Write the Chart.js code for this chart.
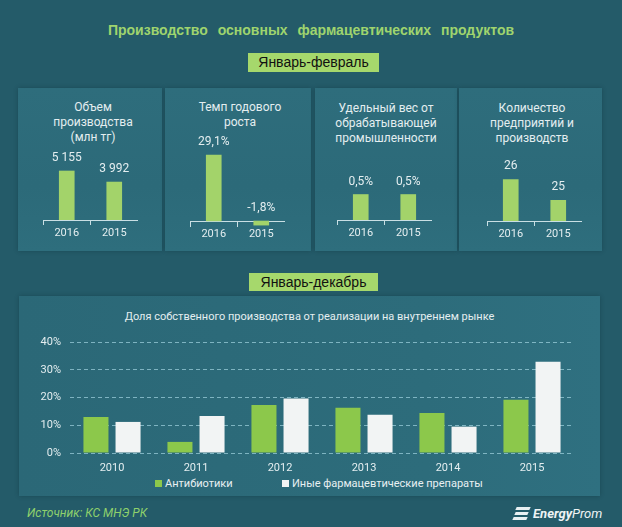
<!DOCTYPE html>
<html><head><meta charset="utf-8">
<script src="https://cdn.jsdelivr.net/npm/chart.js@4.4.1/dist/chart.umd.min.js"></script>
<style>
html,body{margin:0;padding:0;}
body{width:622px;height:527px;background:#245b69;position:relative;overflow:hidden;font-family:Roboto,"Noto Sans",sans-serif;}
.abs{position:absolute;}
.panel{position:absolute;background:linear-gradient(180deg,#2e6d7c 0%,#2c6a79 60%,#2e6e7d 100%);box-shadow:0 0 4px rgba(10,40,50,0.35);}
.title{left:0;width:622px;top:22px;text-align:center;font:bold 14px "Liberation Sans",Arial,sans-serif;color:#9fd46e;word-spacing:6px;}
.box{background:#a6d86c;color:#111;text-align:center;font:14px "Liberation Sans Narrow","Liberation Sans",sans-serif;}
.ptitle{text-align:center;color:#e4eef0;font-size:12px;line-height:15px;}
canvas{position:absolute;}
.leg{font-size:11px;color:#e8f0f2;line-height:14px;}
.sq{display:inline-block;width:7px;height:7px;margin-right:3px;vertical-align:0px;}
</style></head>
<body>
<div class="abs title">Производство основных фармацевтических продуктов</div>
<div class="abs box" style="left:248px;top:53px;width:131px;height:19px;line-height:19px;">Январь-февраль</div>

<div class="panel" style="left:18px;top:88px;width:144px;height:163px;"></div>
<div class="panel" style="left:165px;top:88px;width:146px;height:163px;"></div>
<div class="panel" style="left:315px;top:88px;width:142px;height:163px;"></div>
<div class="panel" style="left:459px;top:88px;width:143px;height:163px;"></div>

<div class="abs ptitle" style="left:33px;width:120px;top:100px;">Объем<br>производства<br>(млн тг)</div>
<div class="abs ptitle" style="left:180px;width:120px;top:100px;">Темп годового<br>роста</div>
<div class="abs ptitle" style="left:326px;width:120px;top:101px;">Удельный вес от<br>обрабатывающей<br>промышленности</div>
<div class="abs ptitle" style="left:472px;width:120px;top:101px;">Количество<br>предприятий и<br>производств</div>

<canvas id="c1" width="95" height="121" style="left:43px;top:120px;"></canvas>
<canvas id="c2" width="95" height="121" style="left:190px;top:120px;"></canvas>
<canvas id="c3" width="95" height="121" style="left:337px;top:120px;"></canvas>
<canvas id="c4" width="95" height="122" style="left:487px;top:120px;"></canvas>

<div class="abs box" style="left:249px;top:273px;width:129px;height:18px;line-height:18px;">Январь-декабрь</div>
<div class="panel" style="left:19px;top:296px;width:581px;height:200px;background:linear-gradient(90deg,#2b6877 0%,#2d6c7b 70%,#2f7080 100%);"></div>
<div class="abs" style="left:19px;width:581px;top:310px;text-align:center;color:#e4eef0;font-size:11px;">Доля собственного производства от реализации на внутреннем рынке</div>
<canvas id="cm" width="580" height="150" style="left:20px;top:325px;"></canvas>
<div class="abs leg" id="legend" style="left:0;width:622px;top:477px;"></div>

<div class="abs" style="left:27px;top:506px;font-style:italic;font-size:12px;color:#8fd16c;">Источник: КС МНЭ РК</div>
<div class="abs" style="left:513px;top:506px;width:90px;height:16px;">
  <div class="abs" style="left:3px;top:1px;width:14px;height:3px;background:#e8f0f2;transform:skewX(-25deg);"></div>
  <div class="abs" style="left:2px;top:6px;width:13px;height:3px;background:#e8f0f2;transform:skewX(-25deg);"></div>
  <div class="abs" style="left:0px;top:11px;width:14px;height:3px;background:#e8f0f2;transform:skewX(-25deg);"></div>
  <div class="abs" style="left:20px;top:0px;font-style:italic;font-size:13px;color:#eef3f4;white-space:nowrap;"><b>Energy</b>Prom</div>
</div>

<script>
// ---- data ----
const miniCategories = ['2016', '2015'];
const volumeValues = [5155, 3992];        // млн тг
const growthValues = [29.1, -1.8];        // %
const shareValues = [0.5, 0.5];           // %
const enterpriseValues = [26, 25];        // ед.

const years = ['2010', '2011', '2012', '2013', '2014', '2015'];
const antibiotics = [13.0, 4.0, 17.3, 16.3, 14.4, 19.2];
const otherPharma = [11.2, 13.3, 19.6, 13.8, 9.5, 32.9];
const seriesNames = ['Антибиотики', 'Иные фармацевтические препараты'];
const yTicks = [0, 10, 20, 30, 40];

// ---- style ----
const FONT = 'Roboto';
const MINI_GREEN = '#a3d36a';
const MAIN_GREEN = '#8cc84b';
const MAIN_WHITE = '#f2f4f4';
const AXIS_COLOR = '#c9dfe4';
const TEXT_COLOR = '#e4eef0';

const valueLabels = {
  id: 'valueLabels',
  afterDatasetsDraw(chart, args, opts) {
    if (!opts.format) return;
    const ctx = chart.ctx;
    const meta = chart.getDatasetMeta(0);
    const data = chart.data.datasets[0].data;
    ctx.save();
    ctx.font = '12px ' + FONT;
    ctx.fillStyle = TEXT_COLOR;
    ctx.textAlign = 'center';
    ctx.textBaseline = 'middle';
    meta.data.forEach((bar, i) => {
      const top = Math.min(bar.y, bar.base);
      ctx.fillText(opts.format(data[i]), bar.x, top - 13);
    });
    ctx.restore();
  }
};

function miniChart(id, values, yOpts, format, xPos) {
  const xScale = {
    type: 'category',
    offset: true,
    grid: { display: true, offset: true, drawOnChartArea: false, drawTicks: true, tickLength: 5, color: AXIS_COLOR },
    border: { display: true, color: AXIS_COLOR, width: 1 },
    ticks: { color: TEXT_COLOR, font: { family: FONT, size: 11 }, padding: 2, maxRotation: 0 },
    afterFit(s) { s.height = 21; }
  };
  if (xPos) xScale.position = xPos;
  new Chart(document.getElementById(id), {
    type: 'bar',
    data: { labels: miniCategories, datasets: [{ data: values, backgroundColor: MINI_GREEN, barThickness: 15 }] },
    options: {
      responsive: false, animation: false, events: [],
      layout: { padding: { top: 20, left: 0, right: 0, bottom: 0 } },
      plugins: { legend: { display: false }, tooltip: { enabled: false }, valueLabels: { format } },
      scales: {
        x: xScale,
        y: Object.assign({ display: false }, yOpts)
      }
    },
    plugins: [valueLabels]
  });
}

const fmtSpace = v => String(v).replace(/\B(?=(\d{3})+(?!\d))/g, ' ');
const fmtPct = v => String(v.toFixed(1)).replace('.', ',') + '%';

miniChart('c1', volumeValues, { min: 0, max: 8416 }, fmtSpace);
miniChart('c2', growthValues, { min: -8.8, max: 35.7 }, fmtPct, { y: 0 });
miniChart('c3', shareValues, { min: 0, max: 1.57 }, fmtPct);
miniChart('c4', enterpriseValues, { min: 24, max: 27.9 }, v => String(v));

new Chart(document.getElementById('cm'), {
  type: 'bar',
  data: {
    labels: years,
    datasets: [
      { label: seriesNames[0], data: antibiotics, backgroundColor: MAIN_GREEN, categoryPercentage: 0.764, barPercentage: 0.78 },
      { label: seriesNames[1], data: otherPharma, backgroundColor: MAIN_WHITE, categoryPercentage: 0.764, barPercentage: 0.78 }
    ]
  },
  options: {
    responsive: false, animation: false, events: [],
    layout: { padding: { top: 17, right: 26, left: 0, bottom: 0 } },
    plugins: { legend: { display: false }, tooltip: { enabled: false } },
    scales: {
      x: {
        grid: { display: false }, border: { display: false },
        ticks: { color: TEXT_COLOR, font: { family: FONT, size: 11 }, padding: 1, maxRotation: 0 },
        afterFit(s) { s.height = 22; }
      },
      y: {
        min: yTicks[0], max: yTicks[yTicks.length - 1],
        afterBuildTicks(s) { s.ticks = yTicks.map(v => ({ value: v })); },
        grid: { color: 'rgba(170,220,232,0.65)', lineWidth: 1, drawTicks: false },
        border: { display: false, dash: [4, 3] },
        ticks: { color: TEXT_COLOR, font: { family: FONT, size: 11 }, padding: 9, callback: v => v + '%' },
        afterFit(s) { s.width = 50; }
      }
    }
  }
});

// legend (html, from series names)
const colors = [MAIN_GREEN, MAIN_WHITE];
document.getElementById('legend').innerHTML =
  '<div style="position:absolute;left:155px;">' + '<span class="sq" style="background:' + colors[0] + '"></span>' + seriesNames[0] + '</div>' +
  '<div style="position:absolute;left:282px;">' + '<span class="sq" style="background:' + colors[1] + '"></span>' + seriesNames[1] + '</div>';
</script>
</body></html>
